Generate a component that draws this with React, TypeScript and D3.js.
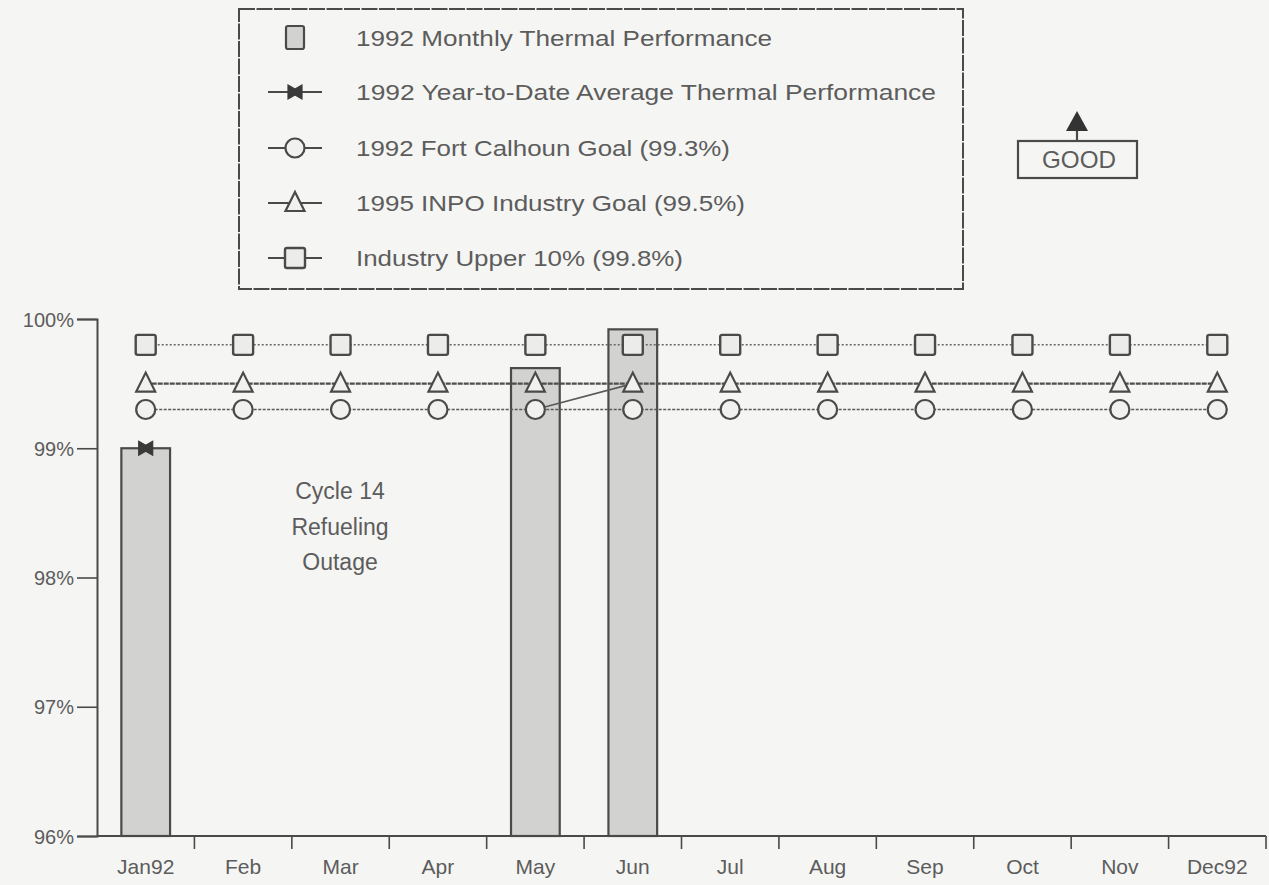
import React, { useEffect, useRef } from "react";
import * as d3 from "d3";

const months = ["Jan92", "Feb", "Mar", "Apr", "May", "Jun", "Jul", "Aug", "Sep", "Oct", "Nov", "Dec92"];
const monthly: (number | null)[] = [99.0, null, null, null, 99.62, 99.92, null, null, null, null, null, null];
const ytdAvg: (number | null)[] = [99.0, null, null, null, 99.3, 99.5, null, null, null, null, null, null];
const fcGoal = [99.3, 99.3, 99.3, 99.3, 99.3, 99.3, 99.3, 99.3, 99.3, 99.3, 99.3, 99.3];
const inpoGoal = [99.5, 99.5, 99.5, 99.5, 99.5, 99.5, 99.5, 99.5, 99.5, 99.5, 99.5, 99.5];
const upper10 = [99.8, 99.8, 99.8, 99.8, 99.8, 99.8, 99.8, 99.8, 99.8, 99.8, 99.8, 99.8];
const yTicks = [96, 97, 98, 99, 100];
const legendLabels = [
  "1992 Monthly Thermal Performance",
  "1992 Year-to-Date Average Thermal Performance",
  "1992 Fort Calhoun Goal (99.3%)",
  "1995 INPO Industry Goal (99.5%)",
  "Industry Upper 10% (99.8%)",
];
const annotation = ["Cycle 14", "Refueling", "Outage"];

const W = 1269, H = 885;
const M = { left: 97, right: 1266, top: 319, bottom: 836 };
const INK = "#4a4a4a";
const TXT = "#5c5c5c";
const FONT = "'Liberation Sans', Arial, Helvetica, sans-serif";

export default function App() {
  const ref = useRef<SVGSVGElement>(null);
  useEffect(() => {
    const svg = d3.select(ref.current);
    svg.selectAll("*").remove();
    svg.append("rect").attr("width", W).attr("height", H).attr("fill", "#f5f5f3");

    const x = d3.scaleBand<string>().domain(months).range([M.left, M.right]).paddingInner(0.5).paddingOuter(0.25);
    const xb = d3.scaleBand<string>().domain(months).range([M.left, M.right]);
    const y = d3.scaleLinear().domain([96, 100]).range([M.bottom, M.top]);
    const cx = (m: string) => (xb(m) as number) + xb.bandwidth() / 2;

    // bars
    const g = svg.append("g");
    g.selectAll("rect.bar")
      .data(months.map((m, i) => ({ m, v: monthly[i] })).filter((d) => d.v != null))
      .enter()
      .append("rect")
      .attr("x", (d) => x(d.m) as number)
      .attr("width", x.bandwidth())
      .attr("y", (d) => y(d.v as number))
      .attr("height", (d) => y(96) - y(d.v as number))
      .attr("fill", "#d2d2d0")
      .attr("stroke", INK)
      .attr("stroke-width", 2.2);

    // axes
    const yAxis = d3.axisLeft(y).tickValues(yTicks).tickFormat((d) => `${d}%`).tickSize(20).tickPadding(3);
    const ya = svg.append("g").attr("transform", `translate(${M.left},0)`).call(yAxis);
    const xAxis = d3.axisBottom(xb).tickSize(0).tickPadding(23);
    const xa = svg.append("g").attr("transform", `translate(0,${M.bottom})`).call(xAxis);
    [ya, xa].forEach((a) => {
      a.select(".domain").attr("stroke", INK).attr("stroke-width", 2);
      a.selectAll(".tick line").attr("stroke", INK).attr("stroke-width", 1.6);
      a.selectAll("text").attr("fill", TXT).attr("font-family", FONT).attr("font-size", 21);
    });
    ya.selectAll("text").attr("font-size", 20).attr("dy", "0.36em");
    xa.select(".domain").attr("d", `M${M.left},0H${M.right}`);
    // boundary ticks on x axis
    xa.selectAll("line.bt")
      .data(months.slice(1).concat(["end"]))
      .enter()
      .append("line")
      .attr("class", "bt")
      .attr("x1", (d) => (d === "end" ? M.right : (xb(d) as number)))
      .attr("x2", (d) => (d === "end" ? M.right : (xb(d) as number)))
      .attr("y1", 0)
      .attr("y2", 13)
      .attr("stroke", INK)
      .attr("stroke-width", 1.6);

    // reference lines with markers
    const line = d3
      .line<{ m: string; v: number | null }>()
      .defined((d) => d.v != null)
      .x((d) => cx(d.m))
      .y((d) => y(d.v as number));

    const series = [
      { vals: fcGoal, dash: "3,1.5", w: 1.7, color: "#5a5a5a" },
      { vals: inpoGoal, dash: "5,1", w: 2.2, color: "#4e4e4e" },
      { vals: upper10, dash: "2,2", w: 1.5, color: "#686868" },
    ];
    series.forEach((s) => {
      g.append("path")
        .datum(months.map((m, i) => ({ m, v: s.vals[i] })))
        .attr("d", line)
        .attr("fill", "none")
        .attr("stroke", s.color)
        .attr("stroke-width", s.w)
        .attr("stroke-dasharray", s.dash);
    });
    // ytd line
    g.append("path")
      .datum(months.map((m, i) => ({ m, v: ytdAvg[i] })))
      .attr("d", line)
      .attr("fill", "none")
      .attr("stroke", "#5a5a5a")
      .attr("stroke-width", 1.6);

    const drawSquare = (sel: any, px: number, py: number) =>
      sel.append("rect").attr("x", px - 10).attr("y", py - 10).attr("width", 20).attr("height", 20).attr("rx", 2)
        .attr("fill", "#ececea").attr("stroke", INK).attr("stroke-width", 2.4);
    const drawTri = (sel: any, px: number, py: number) =>
      sel.append("path").attr("d", `M${px},${py - 11}L${px + 9.5},${py + 8}L${px - 9.5},${py + 8}Z`)
        .attr("fill", "#f1f1ef").attr("stroke", INK).attr("stroke-width", 2.2);
    const drawCircle = (sel: any, px: number, py: number) =>
      sel.append("circle").attr("cx", px).attr("cy", py).attr("r", 9.5)
        .attr("fill", "#f1f1ef").attr("stroke", INK).attr("stroke-width", 2.2);
    const drawBow = (sel: any, px: number, py: number) =>
      sel.append("path").attr("d", `M${px - 7},${py - 7}L${px},${py - 3}L${px + 7},${py - 7}L${px + 7},${py + 7}L${px},${py + 3}L${px - 7},${py + 7}Z`)
        .attr("fill", "#3a3a3a").attr("stroke", "#3a3a3a").attr("stroke-width", 1.2);

    months.forEach((m, i) => {
      drawCircle(g, cx(m), y(fcGoal[i]));
      drawTri(g, cx(m), y(inpoGoal[i]));
      drawSquare(g, cx(m), y(upper10[i]));
    });
    months.forEach((m, i) => {
      if (ytdAvg[i] != null && i === 0) drawBow(g, cx(m), y(ytdAvg[i] as number));
    });

    // annotation
    svg.append("text").attr("y", 499).attr("text-anchor", "middle").attr("font-family", FONT)
      .attr("font-size", 23).attr("fill", TXT)
      .selectAll("tspan").data(annotation).enter().append("tspan")
      .attr("x", 340).attr("dy", (_d, i) => (i === 0 ? 0 : 35.5)).text((d) => d);

    // legend
    const lg = svg.append("g");
    lg.append("rect").attr("x", 239).attr("y", 9).attr("width", 724).attr("height", 280)
      .attr("fill", "none").attr("stroke", INK).attr("stroke-width", 2).attr("stroke-dasharray", "16,1.5");
    const ly = [38, 92, 148, 203, 258];
    const lw = [416, 580, 374, 389, 327];
    const sx = 295;
    // item 0: bar symbol
    lg.append("rect").attr("x", sx - 9).attr("y", ly[0] - 12).attr("width", 18).attr("height", 23).attr("rx", 2)
      .attr("fill", "#d2d2d0").attr("stroke", INK).attr("stroke-width", 2.2);
    for (let k = 1; k < 5; k++) {
      lg.append("line").attr("x1", sx - 27).attr("x2", sx + 27).attr("y1", ly[k]).attr("y2", ly[k])
        .attr("stroke", INK).attr("stroke-width", 1.8);
    }
    drawBow(lg, sx, ly[1]);
    drawCircle(lg, sx, ly[2]);
    drawTri(lg, sx, ly[3]);
    drawSquare(lg, sx, ly[4]);
    legendLabels.forEach((t, k) => {
      lg.append("text").attr("x", 356).attr("y", ly[k] + 8).attr("font-family", FONT).attr("font-size", 22)
        .attr("fill", TXT).attr("textLength", lw[k]).attr("lengthAdjust", "spacingAndGlyphs").text(t);
    });

    // GOOD indicator
    const gd = svg.append("g");
    gd.append("rect").attr("x", 1018).attr("y", 141).attr("width", 119).attr("height", 37)
      .attr("fill", "none").attr("stroke", INK).attr("stroke-width", 2.2);
    gd.append("line").attr("x1", 1077).attr("x2", 1077).attr("y1", 141).attr("y2", 129).attr("stroke", INK).attr("stroke-width", 2.2);
    gd.append("path").attr("d", "M1077,111L1088,131L1066,131Z").attr("fill", "#333");
    gd.append("text").attr("x", 1079).attr("y", 168).attr("text-anchor", "middle").attr("font-family", FONT)
      .attr("font-size", 24).attr("fill", TXT).attr("textLength", 74).attr("lengthAdjust", "spacingAndGlyphs").text("GOOD");
  }, []);
  return <svg ref={ref} width={W} height={H} style={{ position: "absolute", left: 0, top: 0 }} />;
}
